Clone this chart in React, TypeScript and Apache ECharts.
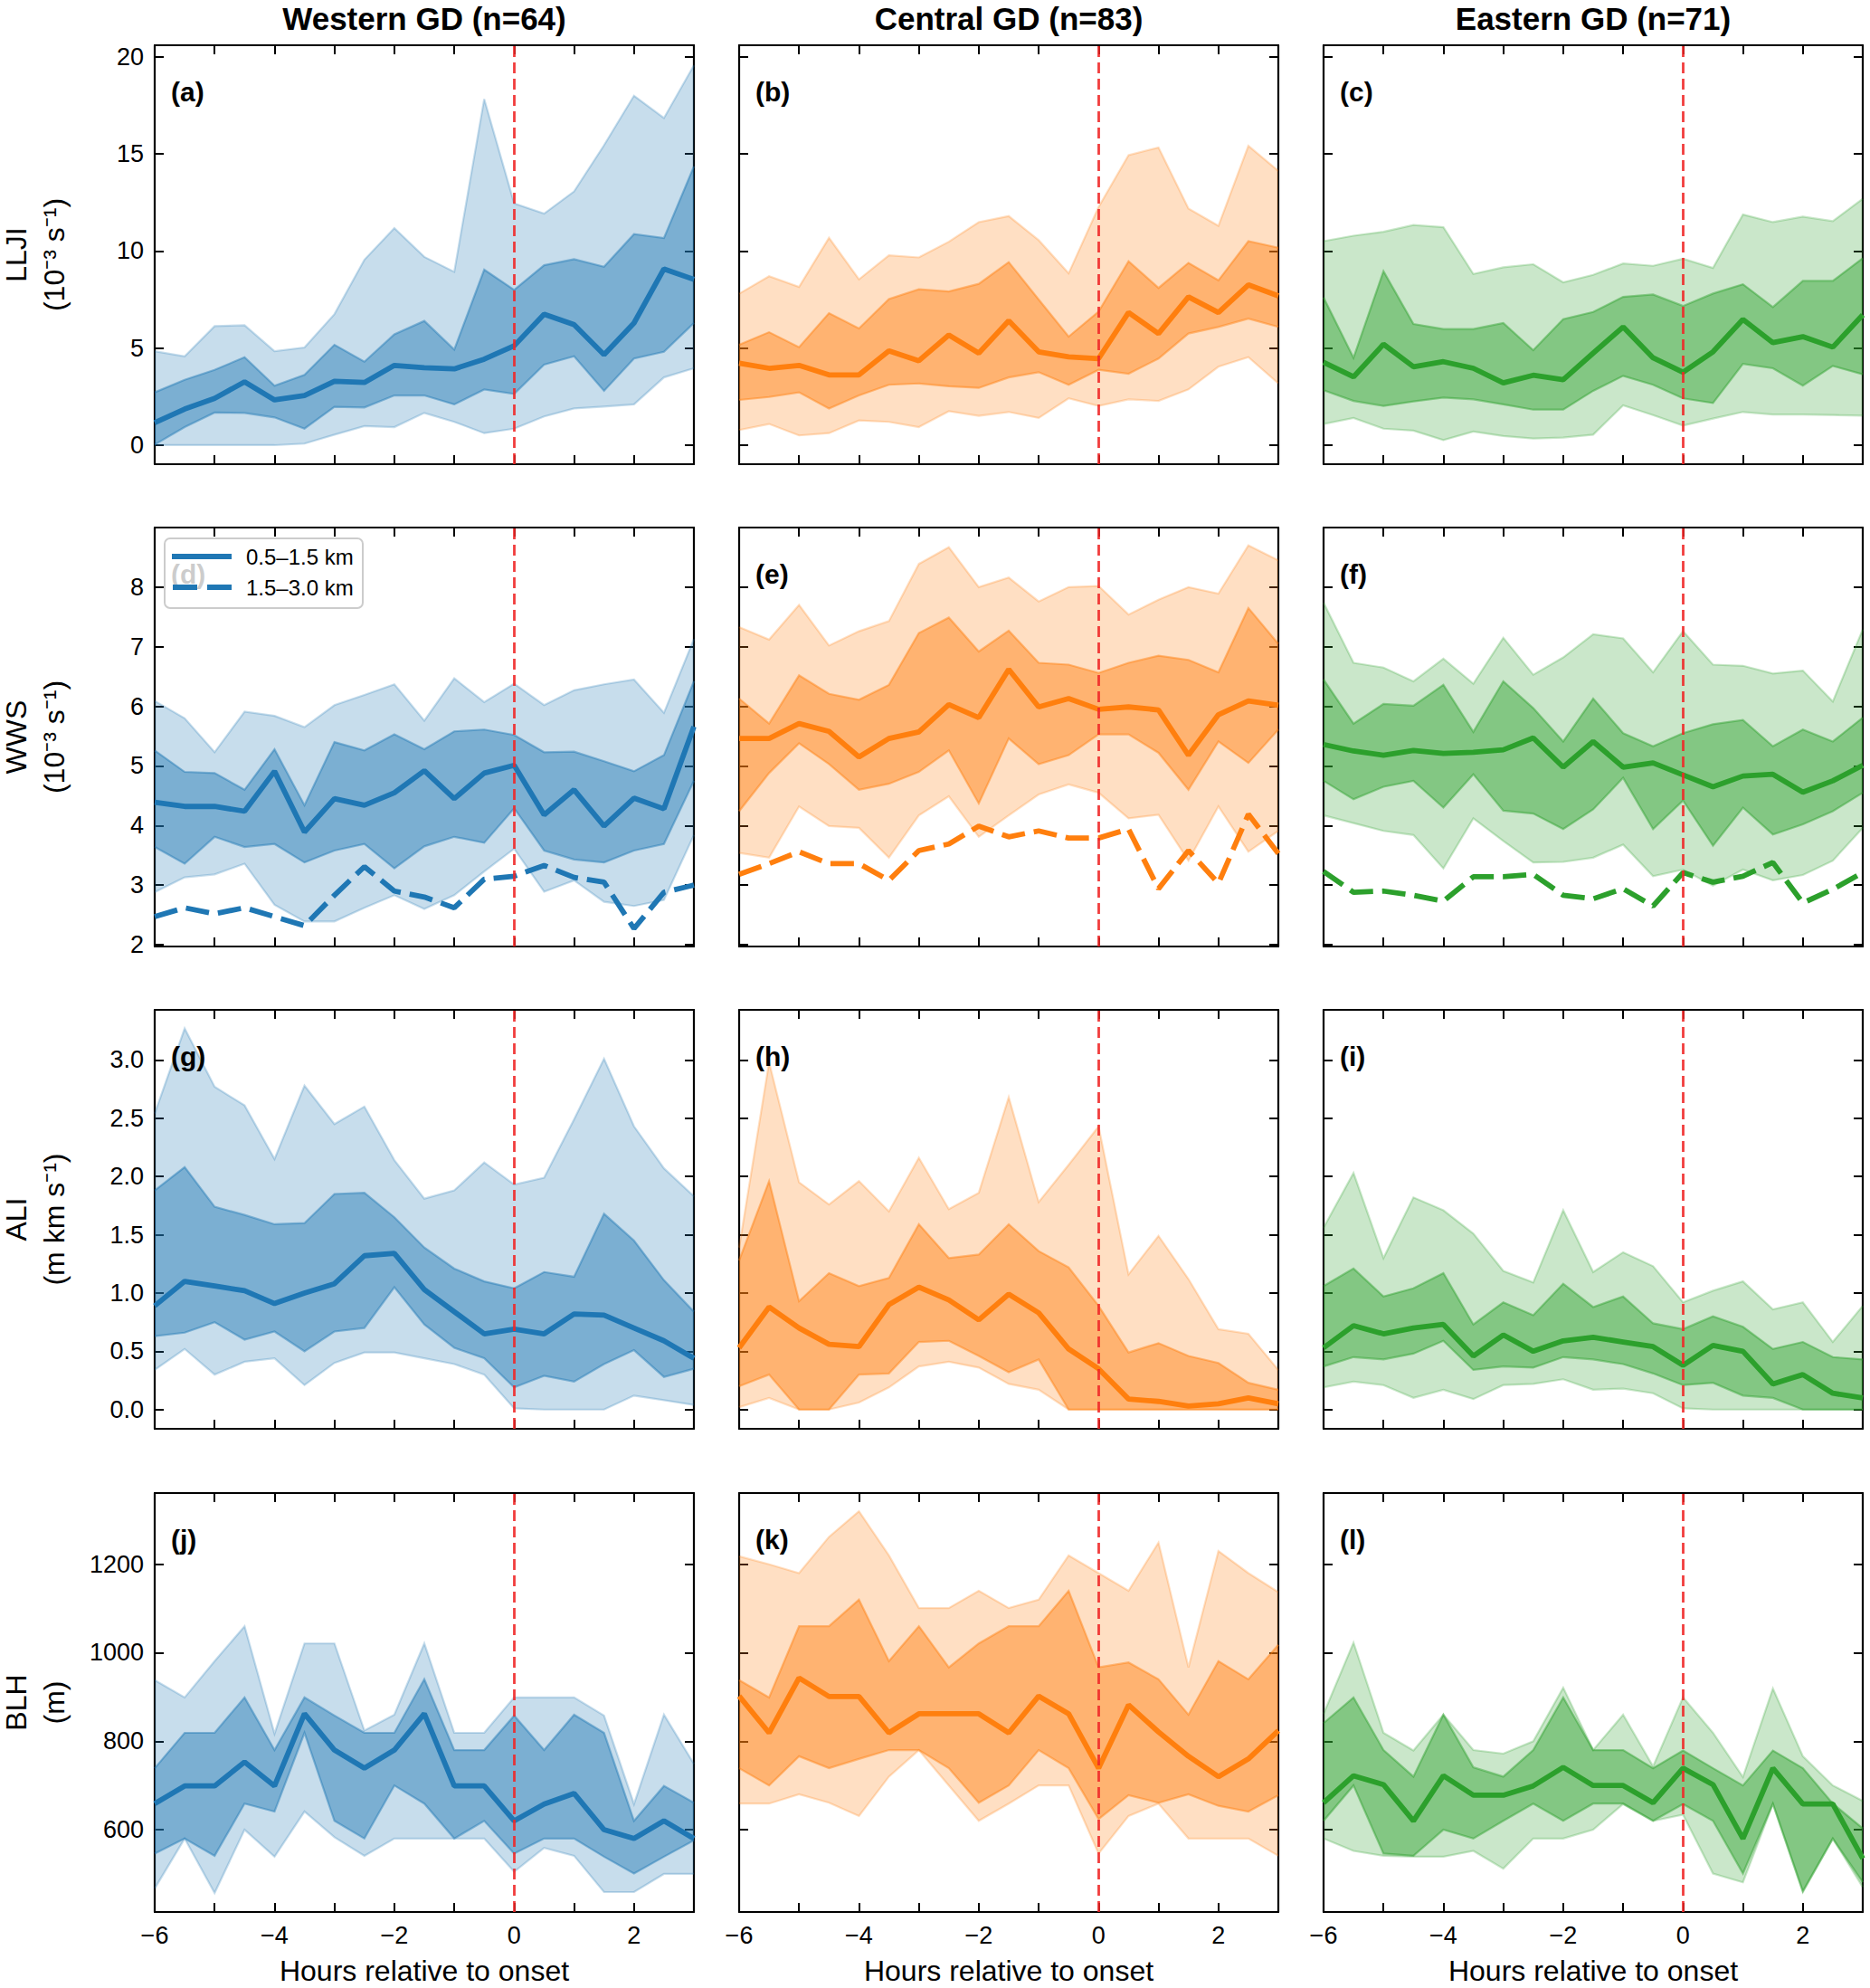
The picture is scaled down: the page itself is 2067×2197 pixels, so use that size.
import React, { useEffect, useRef } from "react";
import * as echarts from "echarts";

// hours relative to onset (half-hourly)
const hours = [-6, -5.5, -5, -4.5, -4, -3.5, -3, -2.5, -2, -1.5, -1, -0.5, 0, 0.5, 1, 1.5, 2, 2.5, 3];
const xTicks = [-6, -5, -4, -3, -2, -1, 0, 1, 2, 3];
const xLabels = [-6, -4, -2, 0, 2];

const lljiTicks = [0, 5, 10, 15, 20];
const wwsTicks = [2, 3, 4, 5, 6, 7, 8];
const aliTicks = [0, 0.5, 1, 1.5, 2, 2.5, 3];
const blhTicks = [600, 800, 1000, 1200];

const regions = ["Western GD (n=64)", "Central GD (n=83)", "Eastern GD (n=71)"];
const letters = ["(a)", "(b)", "(c)", "(d)", "(e)", "(f)", "(g)", "(h)", "(i)", "(j)", "(k)", "(l)"];
const legendNames = ["0.5\u20131.5 km", "1.5\u20133.0 km"];

// LLJI
const lljiW90 = [4.84, 4.58, 6.13, 6.18, 4.84, 5.03, 6.75, 9.55, 11.18, 9.7, 8.93, 17.83, 12.45, 11.93, 13.07, 15.45, 18.0, 16.85, 19.57];
const lljiW75 = [2.72, 3.37, 3.88, 4.53, 3.06, 3.62, 5.17, 4.3, 5.71, 6.4, 4.92, 9.04, 8.0, 9.27, 9.58, 9.19, 10.87, 10.67, 14.36];
const lljiW50 = [1.16, 1.86, 2.41, 3.26, 2.33, 2.56, 3.29, 3.23, 4.11, 3.99, 3.93, 4.43, 5.12, 6.75, 6.21, 4.66, 6.29, 9.08, 8.54];
const lljiW25 = [0.03, 0.93, 1.68, 1.66, 1.43, 0.85, 1.97, 1.94, 2.56, 2.56, 2.1, 2.87, 2.64, 4.15, 4.58, 2.8, 4.46, 4.81, 6.29];
const lljiW10 = [0, 0, 0, 0, 0, 0.08, 0.54, 0.98, 0.93, 1.66, 1.2, 0.62, 0.85, 1.48, 1.89, 1.99, 2.1, 3.49, 3.96];

const lljiC90 = [7.8, 8.7, 8.15, 10.68, 8.54, 9.78, 9.67, 10.48, 11.49, 11.8, 10.56, 8.85, 12.27, 14.94, 15.33, 12.19, 11.3, 15.42, 14.13];
const lljiC75 = [5.17, 5.82, 5.05, 6.8, 6.01, 7.53, 8.03, 7.92, 8.31, 9.43, 7.5, 5.59, 6.88, 9.47, 8.1, 9.39, 8.49, 10.51, 10.17];
const lljiC50 = [4.22, 3.96, 4.11, 3.62, 3.62, 4.86, 4.35, 5.67, 4.74, 6.41, 4.81, 4.55, 4.46, 6.83, 5.75, 7.64, 6.83, 8.26, 7.69];
const lljiC25 = [2.33, 2.48, 2.72, 1.89, 2.56, 3.11, 3.18, 3.03, 2.95, 3.49, 3.76, 3.11, 3.88, 3.68, 4.46, 5.75, 6.09, 6.52, 6.09];
const lljiC10 = [0.78, 1.09, 0.5, 0.62, 1.27, 1.2, 0.93, 1.75, 1.51, 1.71, 1.4, 2.41, 2.02, 2.36, 2.28, 2.87, 4.04, 4.53, 3.18];

const lljiE90 = [10.51, 10.79, 10.99, 11.34, 11.23, 8.82, 9.16, 9.32, 8.39, 8.77, 9.36, 9.24, 9.6, 9.13, 11.88, 11.49, 11.77, 11.54, 12.69];
const lljiE75 = [7.61, 4.5, 8.96, 6.24, 5.98, 5.98, 6.29, 4.89, 6.49, 6.86, 7.64, 7.76, 7.17, 7.81, 8.29, 7.11, 8.46, 8.46, 9.63];
const lljiE50 = [4.27, 3.52, 5.2, 4.04, 4.3, 3.96, 3.21, 3.6, 3.37, 4.74, 6.09, 4.5, 3.76, 4.81, 6.48, 5.28, 5.59, 5.05, 6.71];
const lljiE25 = [2.83, 2.28, 2.02, 2.25, 2.45, 2.36, 2.1, 1.83, 1.83, 2.8, 3.57, 3.11, 2.41, 2.17, 4.19, 3.96, 3.07, 4.08, 3.65];
const lljiE10 = [1.09, 1.4, 0.85, 0.75, 0.26, 0.7, 0.47, 0.34, 0.39, 0.54, 2.05, 1.55, 1.01, 1.37, 1.71, 1.58, 1.58, 1.55, 1.52];

// WWS (bands + median for 0.5-1.5 km, dashed median for 1.5-3.0 km)
const wwsW90 = [6.09, 5.8, 5.23, 5.91, 5.84, 5.65, 6.02, 6.19, 6.37, 5.76, 6.47, 6.07, 6.38, 6.02, 6.27, 6.37, 6.45, 5.89, 7.13];
const wwsW75 = [5.26, 4.9, 4.88, 4.6, 5.28, 4.34, 5.4, 5.26, 5.53, 5.28, 5.58, 5.61, 5.52, 5.23, 5.24, 5.08, 4.91, 5.18, 6.42];
const wwsW50 = [4.39, 4.32, 4.32, 4.24, 4.91, 3.89, 4.45, 4.34, 4.55, 4.92, 4.45, 4.88, 5.01, 4.18, 4.6, 3.99, 4.46, 4.28, 5.66];
const wwsW25 = [3.64, 3.36, 3.81, 3.64, 3.69, 3.38, 3.58, 3.69, 3.28, 3.65, 3.81, 3.71, 4.29, 3.58, 3.43, 3.38, 3.58, 3.69, 4.75];
const wwsW10 = [2.88, 3.13, 3.18, 3.36, 2.67, 2.39, 2.39, 2.62, 2.83, 2.6, 2.83, 3.23, 3.61, 2.89, 3.08, 2.72, 2.65, 2.75, 3.84];
const wwsWHigh = [2.47, 2.62, 2.52, 2.62, 2.47, 2.32, 2.83, 3.31, 2.9, 2.8, 2.62, 3.1, 3.15, 3.33, 3.13, 3.05, 2.27, 2.88, 3.0];

const wwsC90 = [7.33, 7.12, 7.7, 7.02, 7.26, 7.43, 8.39, 8.67, 8.0, 8.16, 7.76, 8.0, 8.02, 7.54, 7.79, 8.0, 7.89, 8.7, 8.45];
const wwsC75 = [6.13, 5.71, 6.52, 6.21, 6.11, 6.36, 7.23, 7.49, 6.92, 7.27, 6.73, 6.7, 6.56, 6.73, 6.85, 6.78, 6.57, 7.65, 7.05];
const wwsC50 = [5.46, 5.46, 5.71, 5.58, 5.15, 5.46, 5.57, 6.03, 5.81, 6.62, 5.99, 6.13, 5.95, 5.99, 5.94, 5.18, 5.86, 6.09, 6.02];
const wwsC25 = [4.24, 4.88, 5.38, 5.03, 4.6, 4.7, 4.9, 5.26, 4.37, 5.46, 5.03, 5.18, 5.53, 5.53, 5.22, 4.6, 5.41, 5.05, 5.61];
const wwsC10 = [3.54, 3.46, 4.32, 3.99, 3.96, 3.46, 4.17, 4.49, 3.81, 4.17, 4.52, 4.69, 4.55, 4.12, 4.18, 3.41, 4.32, 3.56, 3.91];
const wwsCHigh = [3.18, 3.36, 3.56, 3.36, 3.36, 3.08, 3.58, 3.69, 3.99, 3.81, 3.91, 3.79, 3.79, 3.94, 2.94, 3.58, 3.03, 4.19, 3.53];

const wwsE90 = [7.74, 6.73, 6.65, 6.42, 6.8, 6.38, 7.15, 6.53, 6.82, 7.21, 7.14, 6.57, 7.26, 6.7, 6.68, 6.55, 6.6, 6.08, 7.29];
const wwsE75 = [6.45, 5.71, 6.04, 6.01, 6.36, 5.57, 6.42, 5.97, 5.41, 6.13, 5.55, 5.33, 5.55, 5.7, 5.77, 5.33, 5.61, 5.41, 5.81];
const wwsE50 = [5.36, 5.25, 5.18, 5.26, 5.21, 5.23, 5.27, 5.47, 4.98, 5.41, 4.98, 5.05, 4.85, 4.65, 4.83, 4.86, 4.56, 4.75, 5.01];
const wwsE25 = [4.75, 4.44, 4.65, 4.75, 4.3, 4.86, 4.25, 4.2, 3.94, 4.27, 4.8, 3.94, 4.42, 3.66, 4.3, 3.85, 4.02, 4.24, 4.55];
const wwsE10 = [4.17, 4.04, 3.91, 3.84, 3.28, 4.12, 3.74, 3.38, 3.39, 3.46, 3.68, 3.15, 3.26, 2.99, 3.26, 3.08, 3.17, 3.41, 3.96];
const wwsEHigh = [3.23, 2.88, 2.9, 2.83, 2.73, 3.14, 3.14, 3.18, 2.83, 2.77, 2.94, 2.65, 3.21, 3.05, 3.15, 3.38, 2.7, 2.93, 3.21];

// ALI
const aliW90 = [2.54, 3.27, 2.77, 2.61, 2.15, 2.78, 2.45, 2.6, 2.14, 1.81, 1.88, 2.12, 1.93, 1.99, 2.49, 3.01, 2.43, 2.07, 1.83];
const aliW75 = [1.88, 2.08, 1.74, 1.67, 1.59, 1.6, 1.85, 1.86, 1.65, 1.39, 1.21, 1.1, 1.04, 1.18, 1.14, 1.68, 1.45, 1.11, 0.84];
const aliW50 = [0.89, 1.1, 1.06, 1.02, 0.91, 1.0, 1.08, 1.32, 1.34, 1.03, 0.84, 0.65, 0.69, 0.65, 0.82, 0.81, 0.7, 0.59, 0.44];
const aliW25 = [0.63, 0.66, 0.75, 0.6, 0.67, 0.5, 0.67, 0.7, 1.05, 0.73, 0.53, 0.44, 0.19, 0.29, 0.24, 0.39, 0.51, 0.28, 0.35];
const aliW10 = [0.34, 0.52, 0.3, 0.41, 0.44, 0.21, 0.4, 0.49, 0.49, 0.44, 0.39, 0.3, 0.01, 0, 0, 0, 0.12, 0.08, 0.04];

const aliC90 = [1.39, 2.98, 1.95, 1.76, 1.96, 1.7, 2.16, 1.72, 1.86, 2.68, 1.78, 2.1, 2.43, 1.16, 1.49, 1.12, 0.69, 0.65, 0.34];
const aliC75 = [1.28, 1.96, 0.93, 1.17, 1.06, 1.13, 1.59, 1.3, 1.33, 1.59, 1.36, 1.22, 0.89, 0.49, 0.57, 0.46, 0.4, 0.23, 0.17];
const aliC50 = [0.53, 0.88, 0.7, 0.56, 0.54, 0.9, 1.05, 0.94, 0.77, 0.99, 0.83, 0.52, 0.35, 0.09, 0.07, 0.03, 0.05, 0.1, 0.05];
const aliC25 = [0.2, 0.3, 0, 0, 0.3, 0.31, 0.58, 0.59, 0.46, 0.32, 0.43, 0, 0, 0, 0, 0, 0, 0, 0];
const aliC10 = [0.02, 0.1, 0, 0, 0.06, 0.19, 0.37, 0.41, 0.36, 0.22, 0.17, 0, 0, 0, 0, 0, 0, 0, 0];

const aliE90 = [1.56, 2.03, 1.3, 1.82, 1.71, 1.51, 1.19, 1.09, 1.71, 1.18, 1.35, 1.23, 0.92, 1.02, 1.1, 0.86, 0.92, 0.58, 0.89];
const aliE75 = [1.06, 1.21, 0.97, 1.04, 1.17, 0.73, 0.92, 0.81, 1.08, 0.88, 0.97, 0.74, 0.69, 0.8, 0.71, 0.52, 0.58, 0.45, 0.43];
const aliE50 = [0.53, 0.72, 0.65, 0.7, 0.73, 0.46, 0.64, 0.5, 0.59, 0.62, 0.58, 0.54, 0.38, 0.55, 0.5, 0.22, 0.3, 0.14, 0.1];
const aliE25 = [0.37, 0.45, 0.43, 0.48, 0.59, 0.34, 0.37, 0.36, 0.45, 0.43, 0.39, 0.31, 0.21, 0.23, 0.12, 0.1, 0, 0, 0];
const aliE10 = [0.19, 0.24, 0.21, 0.1, 0.17, 0.09, 0.21, 0.22, 0.26, 0.17, 0.18, 0.14, 0.01, 0, 0, 0, 0, 0, 0];

// BLH
const blhW90 = [938, 899, 981, 1060, 817, 1021, 1021, 824, 860, 1021, 819, 819, 899, 899, 899, 858, 658, 860, 749];
const blhW75 = [739, 819, 819, 899, 780, 899, 858, 819, 819, 940, 780, 780, 858, 780, 860, 819, 620, 699, 661];
const blhW50 = [659, 699, 699, 753, 699, 862, 780, 739, 780, 862, 699, 699, 620, 658, 682, 600, 580, 620, 580];
const blhW25 = [546, 580, 541, 659, 641, 819, 620, 580, 700, 659, 580, 620, 546, 580, 580, 539, 501, 539, 576];
const blhW10 = [467, 580, 457, 600, 539, 641, 583, 541, 580, 580, 580, 580, 505, 559, 541, 459, 459, 500, 500];

const blhC90 = [1218, 1200, 1180, 1262, 1320, 1220, 1101, 1101, 1140, 1101, 1120, 1220, 1180, 1140, 1249, 967, 1230, 1180, 1137];
const blhC75 = [938, 899, 1060, 1060, 1120, 981, 1060, 967, 1021, 1060, 1060, 1140, 967, 978, 940, 860, 981, 940, 1018];
const blhC50 = [902, 819, 943, 901, 901, 819, 862, 862, 862, 819, 902, 862, 739, 882, 821, 766, 720, 760, 824];
const blhC25 = [739, 700, 766, 739, 760, 780, 780, 739, 661, 700, 780, 739, 624, 678, 661, 680, 654, 641, 678];
const blhC10 = [659, 659, 680, 661, 631, 720, 780, 700, 620, 659, 700, 700, 546, 631, 659, 580, 580, 580, 541];

const blhE90 = [862, 1023, 819, 779, 860, 780, 772, 800, 921, 780, 860, 743, 899, 819, 719, 919, 766, 700, 665];
const blhE75 = [841, 899, 780, 720, 860, 741, 720, 780, 899, 780, 780, 739, 779, 739, 700, 779, 739, 659, 603];
const blhE50 = [661, 722, 702, 620, 722, 678, 678, 699, 741, 700, 700, 661, 739, 702, 580, 739, 658, 658, 535];
const blhE25 = [620, 700, 546, 541, 600, 580, 620, 659, 620, 659, 659, 620, 658, 620, 501, 659, 461, 580, 481];
const blhE10 = [580, 552, 541, 539, 539, 552, 512, 580, 580, 600, 658, 620, 634, 501, 481, 658, 459, 580, 470];

const COLORS = ["#1f77b4", "#ff7f0e", "#2ca02c"];
const FONT = "'Liberation Sans', Arial, Helvetica, sans-serif";

const COL_LEFT = [171, 817, 1463];
const ROW_TOP = [50, 583, 1116, 1650];
const PW = 596;
const PH = 463;

const rows = [
  { min: -0.98, max: 20.6, ticks: lljiTicks, fmt: (v: number) => String(v), name: "LLJI", unit: "(10\u207B\u00B3 s\u207B\u00B9)" },
  { min: 1.97, max: 9.0, ticks: wwsTicks, fmt: (v: number) => String(v), name: "WWS", unit: "(10\u207B\u00B3 s\u207B\u00B9)" },
  { min: -0.165, max: 3.43, ticks: aliTicks, fmt: (v: number) => v.toFixed(1), name: "ALI", unit: "(m km s\u207B\u00B9)" },
  { min: 414, max: 1361, ticks: blhTicks, fmt: (v: number) => String(v), name: "BLH", unit: "(m)" },
];

const panels = [
  { p10: lljiW10, p25: lljiW25, p50: lljiW50, p75: lljiW75, p90: lljiW90, high: null },
  { p10: lljiC10, p25: lljiC25, p50: lljiC50, p75: lljiC75, p90: lljiC90, high: null },
  { p10: lljiE10, p25: lljiE25, p50: lljiE50, p75: lljiE75, p90: lljiE90, high: null },
  { p10: wwsW10, p25: wwsW25, p50: wwsW50, p75: wwsW75, p90: wwsW90, high: wwsWHigh },
  { p10: wwsC10, p25: wwsC25, p50: wwsC50, p75: wwsC75, p90: wwsC90, high: wwsCHigh },
  { p10: wwsE10, p25: wwsE25, p50: wwsE50, p75: wwsE75, p90: wwsE90, high: wwsEHigh },
  { p10: aliW10, p25: aliW25, p50: aliW50, p75: aliW75, p90: aliW90, high: null },
  { p10: aliC10, p25: aliC25, p50: aliC50, p75: aliC75, p90: aliC90, high: null },
  { p10: aliE10, p25: aliE25, p50: aliE50, p75: aliE75, p90: aliE90, high: null },
  { p10: blhW10, p25: blhW25, p50: blhW50, p75: blhW75, p90: blhW90, high: null },
  { p10: blhC10, p25: blhC25, p50: blhC50, p75: blhC75, p90: blhC90, high: null },
  { p10: blhE10, p25: blhE25, p50: blhE50, p75: blhE75, p90: blhE90, high: null },
];

const minusFmt = (v: number) => (v < 0 ? "\u2212" + Math.abs(v) : String(v));

// fill between two percentile curves, drawn as one polygon through the axes' scales
function bandSeries(g: number, lo: number[], hi: number[], color: string, alpha: number, z: number) {
  return {
    type: "custom",
    xAxisIndex: 2 * g,
    yAxisIndex: 2 * g,
    silent: true,
    z,
    data: hours.map((h, i) => [h, lo[i], hi[i]]),
    encode: { x: 0, y: [1, 2] },
    renderItem: (params: any, api: any) => {
      if (params.dataIndex !== 0) return null;
      const top = hours.map((h, i) => api.coord([h, hi[i]]));
      const bottom = hours.map((h, i) => api.coord([h, lo[i]]));
      const poly = top.concat(bottom.slice().reverse());
      return {
        type: "group",
        children: [
          { type: "polygon", shape: { points: poly }, style: { fill: color, opacity: alpha } },
          { type: "polyline", shape: { points: top }, style: { stroke: color, fill: "none", lineWidth: 2.2, opacity: alpha } },
          { type: "polyline", shape: { points: bottom }, style: { stroke: color, fill: "none", lineWidth: 2.2, opacity: alpha } },
        ],
      };
    },
  };
}

function buildOption() {
  const grid: any[] = [];
  const xAxis: any[] = [];
  const yAxis: any[] = [];
  const series: any[] = [];
  const graphic: any[] = [];

  const axisLine = { show: true, onZero: false, lineStyle: { color: "#000", width: 2.2 } };
  const tick = (vals: number[]) => ({
    show: true,
    inside: true,
    length: 10,
    customValues: vals,
    lineStyle: { color: "#000", width: 2 },
  });
  const labelStyle = { color: "#000", fontSize: 27, fontFamily: FONT, margin: 12 };

  panels.forEach((p, g) => {
    const r = Math.floor(g / 3);
    const c = g % 3;
    const row = rows[r];
    const color = COLORS[c];
    grid.push({ left: COL_LEFT[c], top: ROW_TOP[r], width: PW, height: PH });

    const xBase = { type: "value", gridIndex: g, min: -6, max: 3, axisLine, axisTick: tick(xTicks), splitLine: { show: false } };
    xAxis.push({ ...xBase, position: "bottom", axisLabel: { show: r === 3, customValues: xLabels, formatter: minusFmt, ...labelStyle } });
    xAxis.push({ ...xBase, position: "top", axisLabel: { show: false } });

    const yBase = { type: "value", gridIndex: g, min: row.min, max: row.max, axisLine, axisTick: tick(row.ticks), splitLine: { show: false } };
    yAxis.push({ ...yBase, position: "left", axisLabel: { show: c === 0, customValues: row.ticks, formatter: row.fmt, ...labelStyle } });
    yAxis.push({ ...yBase, position: "right", axisLabel: { show: false } });

    series.push(bandSeries(g, p.p10, p.p90, color, 0.25, 1));
    series.push(bandSeries(g, p.p25, p.p75, color, 0.45, 2));
    series.push({
      type: "line",
      xAxisIndex: 2 * g,
      yAxisIndex: 2 * g,
      symbol: "none",
      silent: true,
      z: 3,
      data: hours.map((h, i) => [h, p.p50[i]]),
      lineStyle: { color, width: 5.8 },
      markLine: {
        silent: true,
        symbol: ["none", "none"],
        label: { show: false },
        lineStyle: { color: "#f02828", type: [12, 6], width: 2.8, opacity: 0.9 },
        data: [{ xAxis: 0 }],
      },
    });
    if (p.high) {
      series.push({
        type: "line",
        xAxisIndex: 2 * g,
        yAxisIndex: 2 * g,
        symbol: "none",
        silent: true,
        z: 3,
        data: hours.map((h, i) => [h, p.high![i]]),
        lineStyle: { color, width: 5.8, type: [26, 10] },
      });
    }

    graphic.push({
      type: "text",
      x: COL_LEFT[c] + 18,
      y: ROW_TOP[r] + 51,
      z: 90,
      style: { text: letters[g], fontSize: 30, fontWeight: "bold", fontFamily: FONT, fill: "#000", textAlign: "left", textVerticalAlign: "middle" },
    });
  });

  // column titles and x-axis titles
  regions.forEach((t, c) => {
    const cx = COL_LEFT[c] + PW / 2;
    graphic.push({
      type: "text",
      x: cx,
      y: 20,
      style: { text: t, fontSize: 35, fontWeight: "bold", fontFamily: FONT, fill: "#000", textAlign: "center", textVerticalAlign: "middle" },
    });
    graphic.push({
      type: "text",
      x: cx,
      y: 2178,
      style: { text: "Hours relative to onset", fontSize: 32, fontFamily: FONT, fill: "#000", textAlign: "center", textVerticalAlign: "middle" },
    });
  });

  // row y-axis titles
  rows.forEach((row, r) => {
    graphic.push({
      type: "text",
      x: 39,
      y: ROW_TOP[r] + PH / 2,
      rotation: Math.PI / 2,
      style: {
        text: row.name + "\n" + row.unit,
        fontSize: 32,
        lineHeight: 42,
        fontFamily: FONT,
        fill: "#000",
        textAlign: "center",
        textVerticalAlign: "middle",
      },
    });
  });

  // legend in panel (d)
  const lx = COL_LEFT[0] + 11;
  const ly = ROW_TOP[1] + 12;
  graphic.push({
    type: "rect",
    z: 100,
    shape: { x: lx, y: ly, width: 219, height: 77, r: 6 },
    style: { fill: "rgba(255,255,255,0.8)", stroke: "#cccccc", lineWidth: 2 },
  });
  graphic.push({
    type: "line",
    z: 101,
    shape: { x1: lx + 8, y1: ly + 20, x2: lx + 74, y2: ly + 20 },
    style: { stroke: COLORS[0], lineWidth: 5.8 },
  });
  graphic.push({
    type: "line",
    z: 101,
    shape: { x1: lx + 9, y1: ly + 54, x2: lx + 74, y2: ly + 54 },
    style: { stroke: COLORS[0], lineWidth: 5.8, lineDash: [27, 11] },
  });
  legendNames.forEach((n, i) => {
    graphic.push({
      type: "text",
      z: 101,
      x: lx + 90,
      y: ly + 20 + i * 34,
      style: { text: n, fontSize: 24, fontFamily: FONT, fill: "#000", textAlign: "left", textVerticalAlign: "middle" },
    });
  });

  return {
    animation: false,
    backgroundColor: "#fff",
    grid,
    xAxis,
    yAxis,
    series,
    graphic,
  };
}

export default function App() {
  const chartRef = useRef<HTMLDivElement | null>(null);

  useEffect(() => {
    if (!chartRef.current) return;
    const chart = echarts.init(chartRef.current, null, { renderer: "svg" });
    chart.setOption(buildOption() as any);
    return () => {
      chart.dispose();
    };
  }, []);

  return (
    <div
      ref={chartRef}
      style={{ position: "absolute", left: 0, top: 0, width: 2067, height: 2197, background: "#fff" }}
    />
  );
}
